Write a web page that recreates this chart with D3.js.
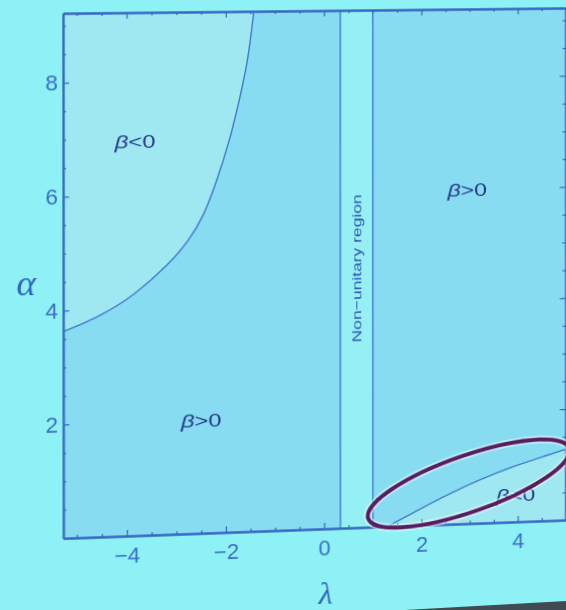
<!DOCTYPE html>
<html><head><meta charset="utf-8">
<script src="https://cdn.jsdelivr.net/npm/d3@7"></script>
<style>
html,body{margin:0;padding:0;background:#8ef1f5;overflow:hidden;width:566px;height:610px}
#chart{position:absolute;left:0;top:0;transform-origin:0 0;overflow:visible}
#overlay{position:absolute;left:0;top:0}
</style></head><body>
<script>
// ---- data ----
const lambdaTicks = [-4, -2, 0, 2, 4];
const alphaTicks = [2, 4, 6, 8];
const nonUnitaryBounds = [1/3, 1];
const leftBoundaryLambda = [-5.27, -4.51, -3.83, -3.15, -2.74, -2.46, -2.20, -1.92, -1.71, -1.54, -1.43];
const leftBoundaryAlpha  = [3.63, 3.89, 4.25, 4.77, 5.19, 5.59, 6.18, 6.94, 7.70, 8.40, 9.22];
const rightBoundaryLambda = [1.30, 1.90, 2.58, 3.26, 3.94, 4.63, 5.02];
const rightBoundaryAlpha  = [0.00, 0.26, 0.55, 0.80, 1.01, 1.18, 1.28];
const regionLabels = ["<0", ">0", ">0", "<0"];
const regionLambda = [-3.83, -2.50, 2.95, 3.96];
const regionAlpha  = [6.96, 2.01, 5.99, 0.49];
const nonUnitaryLabel = "Non\u2212unitary region";
const highlightCenter = [2.99, 0.72]; // (lambda, alpha)

const W = 566, H = 610;
const x = d3.scaleLinear().domain([-5.27, 5.0]).range([63, 565.2]);
const y = d3.scaleLinear().domain([0, 9.22]).range([538, 13]);

const cBetaPos = "#88dcf1", cBetaNeg = "#a0e8f1", cNonUni = "#95f0f6";
const cLine = "#3f78cf", cFrame = "#3566c4", cTick = "#3a6cce", cText = "#24388a";

const svg = d3.select("body").append("svg").attr("id", "chart")
  .attr("width", 620).attr("height", 660);

// perspective of the photo: map straight chart onto observed quadrilateral
function homography(src, dst) {
  const A = [], b = [];
  for (let i = 0; i < 4; i++) {
    const [sx, sy] = src[i], [u, v] = dst[i];
    A.push([sx, sy, 1, 0, 0, 0, -sx * u, -sy * u]); b.push(u);
    A.push([0, 0, 0, sx, sy, 1, -sx * v, -sy * v]); b.push(v);
  }
  const n = 8;
  for (let c = 0; c < n; c++) {
    let p = c;
    for (let r = c + 1; r < n; r++) if (Math.abs(A[r][c]) > Math.abs(A[p][c])) p = r;
    [A[c], A[p]] = [A[p], A[c]]; [b[c], b[p]] = [b[p], b[c]];
    for (let r = 0; r < n; r++) {
      if (r === c) continue;
      const f = A[r][c] / A[c][c];
      for (let k = c; k < n; k++) A[r][k] -= f * A[c][k];
      b[r] -= f * b[c];
    }
  }
  return b.map((v, i) => v / A[i][i]);
}
const [ha, hb, hc, hd, he, hf, hg, hh] = homography(
  [[63, 13], [63, 538], [565.2, 13], [565.2, 538]],
  [[63, 13.3], [63.3, 538.3], [565.5, 8], [565.5, 520]]);
svg.style("transform", `matrix3d(${ha},${hd},0,${hg},${hb},${he},0,${hh},0,0,1,0,${hc},${hf},0,1)`);

const x0 = x.range()[0], x1 = x.range()[1], yTop = y.range()[1], yBot = y.range()[0];

svg.append("defs").append("clipPath").attr("id", "plotclip")
  .append("rect").attr("x", x0).attr("y", yTop).attr("width", x1 - x0).attr("height", yBot - yTop);

const plot = svg.append("g").attr("clip-path", "url(#plotclip)");
plot.append("rect").attr("x", x0).attr("y", yTop).attr("width", x1 - x0).attr("height", yBot - yTop)
  .attr("fill", cBetaPos);

const lineL = d3.line().x(d => x(d[0])).y(d => y(d[1])).curve(d3.curveBasis);
const lineR = d3.line().x(d => x(d[0])).y(d => y(d[1])).curve(d3.curveBasis);
const leftPts = leftBoundaryLambda.map((l, i) => [l, leftBoundaryAlpha[i]]);
const rightPts = rightBoundaryLambda.map((l, i) => [l, rightBoundaryAlpha[i]]);

// beta<0 upper-left region
plot.append("path")
  .attr("d", lineL(leftPts) + `L${x(leftPts[leftPts.length - 1][0]) + 5},${yTop - 5}L${x0 - 5},${yTop - 5}L${x0 - 5},${y(leftPts[0][1])}Z`)
  .attr("fill", cBetaNeg);
// beta<0 lower-right region
plot.append("path")
  .attr("d", lineR(rightPts) + `L${x1 + 10},${y(rightPts[rightPts.length - 1][1])}L${x1 + 10},${yBot + 5}L${x(rightPts[0][0])},${yBot + 5}Z`)
  .attr("fill", cBetaNeg);
// non-unitary band
plot.append("rect").attr("x", x(nonUnitaryBounds[0])).attr("y", yTop)
  .attr("width", x(nonUnitaryBounds[1]) - x(nonUnitaryBounds[0])).attr("height", yBot - yTop)
  .attr("fill", cNonUni);

plot.append("path").attr("d", lineL(leftPts)).attr("fill", "none").attr("stroke", cLine).attr("stroke-width", 1.4);
plot.append("path").attr("d", lineR(rightPts)).attr("fill", "none").attr("stroke", cLine).attr("stroke-width", 1.4);
plot.selectAll("line.nu").data(nonUnitaryBounds).join("line").attr("class", "nu")
  .attr("x1", d => x(d)).attr("x2", d => x(d)).attr("y1", yTop).attr("y2", yBot)
  .attr("stroke", cLine).attr("stroke-width", 1.4);

// ---- frame axes ----
const lambdaMinor = d3.range(-5, 5.01, 0.5).filter(v => !lambdaTicks.includes(v));
const alphaMinor = d3.range(0.5, 9.01, 0.5).filter(v => !alphaTicks.includes(v));
function styleAxis(g) {
  g.select(".domain").attr("stroke", cFrame).attr("stroke-width", 1.8);
  g.selectAll(".tick line").attr("stroke", cFrame).attr("stroke-width", 1.2);
  g.selectAll(".tick text").attr("fill", cTick).style("font-family", "'Liberation Sans', Arial, sans-serif").style("font-size", "22px");
}
const fmt = d3.format("d");
svg.append("g").attr("transform", `translate(0,${yBot})`)
  .call(d3.axisBottom(x).tickValues(lambdaTicks).tickFormat(fmt).tickSize(-6).tickSizeOuter(0).tickPadding(11)).call(styleAxis);
svg.append("g").attr("transform", `translate(0,${yBot})`)
  .call(d3.axisBottom(x).tickValues(lambdaMinor).tickFormat("").tickSize(-3).tickSizeOuter(0)).call(styleAxis);
svg.append("g").attr("transform", `translate(0,${yTop})`)
  .call(d3.axisTop(x).tickValues(lambdaTicks).tickFormat("").tickSize(-6).tickSizeOuter(0)).call(styleAxis);
svg.append("g").attr("transform", `translate(0,${yTop})`)
  .call(d3.axisTop(x).tickValues(lambdaMinor).tickFormat("").tickSize(-3).tickSizeOuter(0)).call(styleAxis);
svg.append("g").attr("transform", `translate(${x0},0)`)
  .call(d3.axisLeft(y).tickValues(alphaTicks).tickFormat(fmt).tickSize(-6).tickSizeOuter(0).tickPadding(5)).call(styleAxis);
svg.append("g").attr("transform", `translate(${x0},0)`)
  .call(d3.axisLeft(y).tickValues(alphaMinor).tickFormat("").tickSize(-3).tickSizeOuter(0)).call(styleAxis);
svg.append("g").attr("transform", `translate(${x1},0)`)
  .call(d3.axisRight(y).tickValues(alphaTicks).tickFormat("").tickSize(-6).tickSizeOuter(0)).call(styleAxis);
svg.append("g").attr("transform", `translate(${x1},0)`)
  .call(d3.axisRight(y).tickValues(alphaMinor).tickFormat("").tickSize(-3).tickSizeOuter(0)).call(styleAxis);

// axis titles
svg.append("text").attr("x", 27).attr("y", 294).attr("text-anchor", "middle")
  .style("font-family", "'Liberation Serif', serif").style("font-style", "italic").style("font-size", "36px")
  .attr("fill", "#3264c6").text("α");
svg.append("text").attr("x", x(0.03)).attr("y", 614).attr("text-anchor", "middle")
  .style("font-family", "'Liberation Serif', serif").style("font-style", "italic").style("font-size", "32px")
  .attr("fill", "#3264c6").text("λ");

// region labels
const rl = svg.selectAll("text.region").data(regionLabels).join("text").attr("class", "region")
  .attr("x", (d, i) => x(regionLambda[i])).attr("y", (d, i) => y(regionAlpha[i]) + 7)
  .attr("text-anchor", "middle").attr("fill", cText)
  .attr("textLength", 40).attr("lengthAdjust", "spacingAndGlyphs")
  .style("font-family", "'Liberation Sans', Arial, sans-serif").style("font-size", "19px");
rl.append("tspan").style("font-style", "italic").text("β");
rl.append("tspan").text(d => d);

// non-unitary label (rotated)
const nx = x((nonUnitaryBounds[0] + nonUnitaryBounds[1]) / 2), ny = y(4.62);
svg.append("text").attr("transform", `translate(${nx + 5},${ny}) rotate(-90)`)
  .attr("text-anchor", "middle").attr("fill", "#2f55b5")
  .attr("textLength", 150).attr("lengthAdjust", "spacingAndGlyphs")
  .style("font-family", "'Liberation Sans', Arial, sans-serif").style("font-size", "13.5px")
  .text(nonUnitaryLabel);

// hand-drawn highlight ellipse
const hl = svg.append("g").attr("transform", `translate(${x(highlightCenter[0])},${y(highlightCenter[1])}) rotate(-17.5)`);
hl.append("ellipse").attr("rx", 107).attr("ry", 29).attr("fill", "none")
  .attr("stroke", "rgba(235,250,255,0.5)").attr("stroke-width", 8);
hl.append("ellipse").attr("rx", 107).attr("ry", 29).attr("fill", "none")
  .attr("stroke", "#5b1b5f").attr("stroke-width", 4);

// photo edge at bottom right
d3.select("body").append("svg").attr("id", "overlay").attr("width", W).attr("height", H)
  .append("polygon").attr("points", "405,610 566,601 566,610").attr("fill", "#3f4a52");
</script>
</body></html>
